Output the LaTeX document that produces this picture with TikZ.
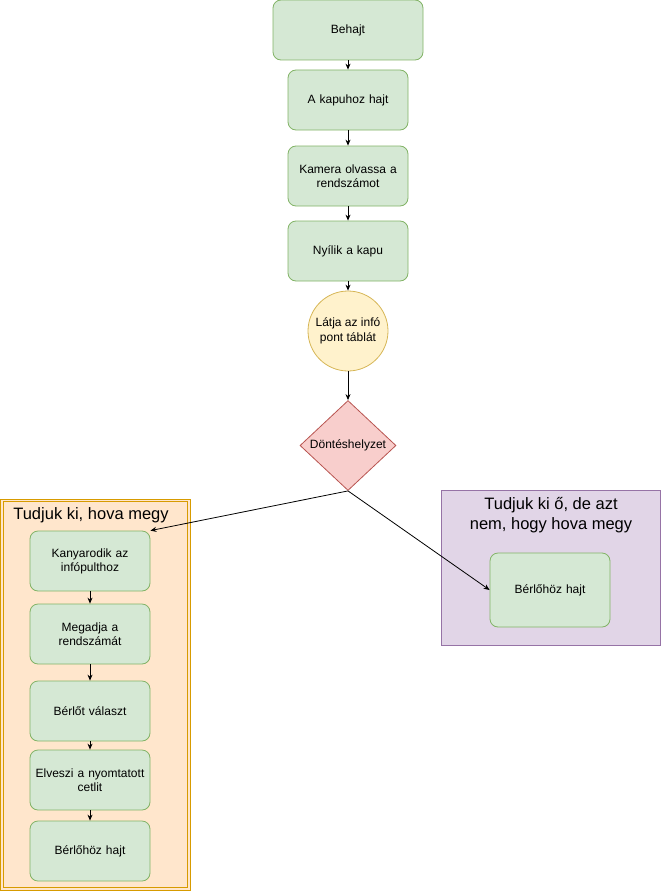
\documentclass[tikz,border=0pt]{standalone}
\usepackage{fontspec}
\setmainfont{Liberation Sans}
\usetikzlibrary{shapes.geometric,arrows.meta}
\definecolor{gfill}{HTML}{D5E8D4}\definecolor{gline}{HTML}{82B366}
\definecolor{yfill}{HTML}{FFF2CC}\definecolor{yline}{HTML}{D6B656}
\definecolor{rfill}{HTML}{F8CECC}\definecolor{rline}{HTML}{B85450}
\definecolor{ofill}{HTML}{FFE6CC}\definecolor{oline}{HTML}{D79B00}
\definecolor{pfill}{HTML}{E1D5E7}\definecolor{pline}{HTML}{9673A6}
\tikzset{
  gbox/.style={draw=gline,fill=gfill,rounded corners=8pt,minimum width=120pt,minimum height=60pt,align=center,text width=112pt,inner sep=2pt,font=\fontsize{12}{14}\selectfont,line width=0.8pt},
  arr/.style={-{Stealth[length=6pt,width=5pt]},line width=0.8pt},
}
\begin{document}
\begin{tikzpicture}[x=1pt,y=-1pt]
\useasboundingbox (0,0) rectangle (661,891);
% containers
\draw[draw=oline,fill=ofill,line width=0.8pt] (0.5,499) rectangle (190,890);
\draw[draw=oline,line width=0.8pt] (3,501.5) rectangle (187.5,887.5);
\node[font=\fontsize{16.5}{19}\selectfont] (t1) at (91,515) {Tudjuk ki, hova megy};
\draw[draw=pline,fill=pfill,line width=0.8pt] (441,490) rectangle (660,645);
\node[font=\fontsize{16.5}{20}\selectfont,align=center] (t2) at (551,515) {Tudjuk ki ő, de azt\\nem, hogy hova megy};
% main column
\node[gbox,minimum width=150pt] (n1) at (348,30) {Behajt};
\node[gbox] (n2) at (348,100) {A kapuhoz hajt};
\node[gbox] (n3) at (348,176) {Kamera olvassa a\\rendszámot};
\node[gbox] (n4) at (348,251) {Nyílik a kapu};
\node[draw=yline,fill=yfill,circle,minimum size=80pt,inner sep=0pt,align=center,font=\fontsize{12}{15}\selectfont,line width=0.8pt] (c) at (348,331) {Látja az infó\\pont táblát};
\node[draw=rline,fill=rfill,diamond,minimum width=96pt,minimum height=90pt,inner sep=0pt,font=\fontsize{12}{14}\selectfont,line width=0.8pt] (d) at (348,445.5) {Döntéshelyzet};
% left column
\node[gbox] (l1) at (90,561) {Kanyarodik az\\infópulthoz};
\node[gbox] (l2) at (90,634) {Megadja a\\rendszámát};
\node[gbox] (l3) at (90,711) {Bérlőt választ};
\node[gbox] (l4) at (90,780) {Elveszi a nyomtatott\\cetlit};
\node[gbox] (l5) at (90,851) {Bérlőhöz hajt};
% right
\node[gbox,minimum height=74pt] (r1) at (550,590) {Bérlőhöz hajt};
% arrows
\draw[arr] (n1) -- (n2);
\draw[arr] (n2) -- (n3);
\draw[arr] (n3) -- (n4);
\draw[arr] (n4) -- (c);
\draw[arr] (c) -- (d);
\draw[arr] (d.south) -- (l1.north east);
\draw[arr] (d.south) -- (r1.west);
\draw[arr] (l1) -- (l2);
\draw[arr] (l2) -- (l3);
\draw[arr] (l3) -- (l4);
\draw[arr] (l4) -- (l5);
\end{tikzpicture}
\end{document}
